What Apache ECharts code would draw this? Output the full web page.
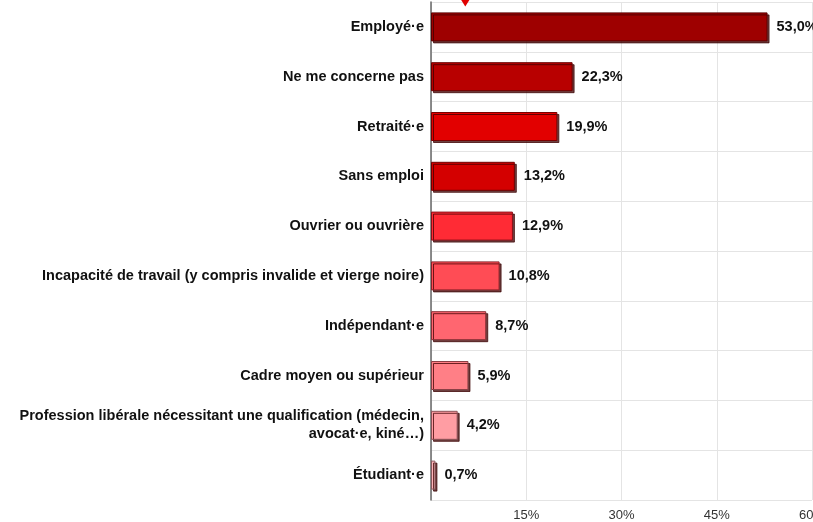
<!DOCTYPE html>
<html>
<head>
<meta charset="utf-8">
<script src="https://cdn.jsdelivr.net/npm/echarts@6/dist/echarts.min.js"></script>
<style>html,body{margin:0;padding:0;background:#fff}#c{width:813px;height:522px}</style>
</head>
<body>
<div id="c"></div>
<script>
const categories = [
  "Employé·e",
  "Ne me concerne pas",
  "Retraité·e",
  "Sans emploi",
  "Ouvrier ou ouvrière",
  "Incapacité de travail (y compris invalide et vierge noire)",
  "Indépendant·e",
  "Cadre moyen ou supérieur",
  "Profession libérale nécessitant une qualification (médecin,\navocat·e, kiné…)",
  "Étudiant·e"
];
const values = [53.0, 22.3, 19.9, 13.2, 12.9, 10.8, 8.7, 5.9, 4.2, 0.7];
const barColors = ["#9e0000", "#b80000", "#e20000", "#d40000", "#ff2b35", "#ff4c55", "#ff6670", "#ff7f86", "#ff9da3", "#ffb4b9"];
const borderColors = ["#5a0000", "#6a0000", "#7a0000", "#700000", "#8a1018", "#8a2228", "#8a3035", "#8a4045", "#8a5055", "#8a5a5e"];
const xTicks = [0, 15, 30, 45, 60];
const markerValue = 5.4;

const chart = echarts.init(document.getElementById('c'), null, {renderer: 'canvas'});
chart.setOption({
  animation: false,
  grid: {left: 431, right: 1, top: 2, bottom: 22, containLabel: false, outerBoundsMode: 'none'},
  xAxis: {
    type: 'value', min: xTicks[0], max: xTicks[xTicks.length - 1], interval: 15,
    axisLine: {show: false}, axisTick: {show: false},
    splitLine: {show: true, lineStyle: {color: '#e4e4e4', width: 1}},
    axisLabel: {
      color: '#333', fontFamily: 'Liberation Sans, Arial', fontSize: 13, margin: 9,
      formatter: v => v === 0 ? '' : v + '%'
    }
  },
  yAxis: {
    type: 'category', data: categories, inverse: true,
    axisLine: {show: true, lineStyle: {color: '#666', width: 1.5}},
    axisTick: {show: false},
    splitLine: {show: true, lineStyle: {color: '#e4e4e4', width: 1}},
    axisLabel: {
      color: '#111', fontFamily: 'Liberation Sans, Arial', fontSize: 14.5, fontWeight: 'bold',
      margin: 7, align: 'right', lineHeight: 18
    }
  },
  series: [{
    type: 'bar', barWidth: 29,
    data: values.map((v, i) => ({
      value: v,
      itemStyle: {
        color: barColors[i], borderColor: borderColors[i], borderWidth: 1,
        shadowColor: 'rgba(60,0,0,0.75)', shadowOffsetX: 2, shadowOffsetY: 2, shadowBlur: 0
      }
    })),
    label: {
      show: true, position: 'right', distance: 9,
      color: '#111', fontFamily: 'Liberation Sans, Arial', fontSize: 14.5, fontWeight: 'bold',
      formatter: p => p.value.toFixed(1).replace('.', ',') + '%'
    },
    markPoint: {
      silent: true,
      symbol: 'triangle', symbolRotate: 180, symbolSize: [9, 7],
      symbolOffset: [0, -24],
      itemStyle: {color: '#e00000'},
      label: {show: false},
      data: [{coord: [markerValue, categories[0]]}]
    }
  }]
});
</script>
</body>
</html>
